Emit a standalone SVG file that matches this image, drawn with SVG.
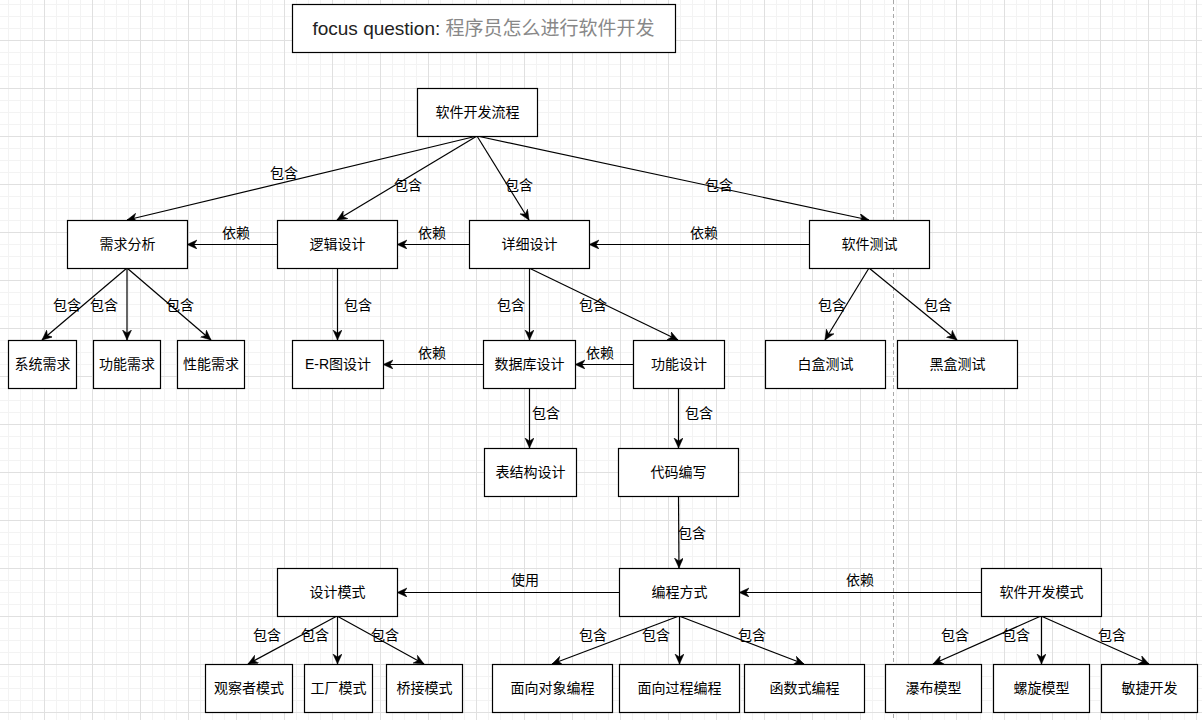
<svg xmlns="http://www.w3.org/2000/svg" width="1202" height="720" viewBox="0 0 1202 720">
<style>
.n rect{fill:#fff;stroke:#000;stroke-width:1.2}
.n text{font-family:"Liberation Sans","Noto Sans CJK SC",sans-serif;font-size:14px;fill:#000;text-anchor:middle}
.e path{fill:none;stroke:#000;stroke-width:1.2}
.e .a{marker-end:url(#arr)}
.l text{font-family:"Liberation Sans","Noto Sans CJK SC",sans-serif;font-size:14px;fill:#000;text-anchor:middle}
</style>
<defs>
<pattern id="grid" x="-4" y="-8" width="48" height="48" patternUnits="userSpaceOnUse">
<path d="M12.5 0V48M24.5 0V48M36.5 0V48M0 12.5H48M0 24.5H48M0 36.5H48" stroke="#f3f3f3" stroke-width="1" fill="none"/>
<path d="M0.5 0V48M0 0.5H48" stroke="#e0e0e0" stroke-width="1" fill="none"/>
</pattern>
<marker id="arr" markerUnits="userSpaceOnUse" markerWidth="12" markerHeight="10" refX="10" refY="4.5" orient="auto">
<path d="M0,0 L10,4.5 L0,9 L3,4.5 Z" fill="#000" stroke="#000" stroke-width="0.5"/>
</marker>
</defs>
<rect width="1202" height="720" fill="#fff"/>
<rect width="1202" height="720" fill="url(#grid)"/>
<path d="M893.5 0V720" stroke="#a8a8a8" stroke-width="1" stroke-dasharray="4 3"/>

<g id="title" class="n">
<rect x="292.5" y="4.5" width="383" height="48"/>
<text x="483.5" y="35" style="font-size:19px"><tspan fill="#222">focus question: </tspan><tspan fill="#888">程序员怎么进行软件开发</tspan></text>
</g>

<g id="edges" class="e">
<path class="a" d="M477 136L127 220"/>
<path class="a" d="M477 136L337 220"/>
<path class="a" d="M477 136L529 220"/>
<path class="a" d="M477 136L869 220"/>
<path class="a" d="M277 244.5H187"/>
<path class="a" d="M469 244.5H397"/>
<path class="a" d="M809 244.5H589"/>
<path class="a" d="M127 268L42 340"/>
<path class="a" d="M127 268V340"/>
<path class="a" d="M127 268L211 340"/>
<path class="a" d="M337.5 268V340"/>
<path class="a" d="M529.5 268V340"/>
<path class="a" d="M529 268L678 340"/>
<path class="a" d="M483 364.5H383"/>
<path class="a" d="M633 364.5H575"/>
<path class="a" d="M529.5 388V448"/>
<path class="a" d="M678.5 388V448"/>
<path class="a" d="M678.5 496L679 568"/>
<path class="a" d="M619 592.5H397"/>
<path class="a" d="M981 592.5H739"/>
<path class="a" d="M869 268L825 340"/>
<path class="a" d="M869 268L957 340"/>
<path class="a" d="M337 616L248 664"/>
<path class="a" d="M337.5 616V664"/>
<path class="a" d="M337 616L424 664"/>
<path class="a" d="M679 616L552 664"/>
<path class="a" d="M679.5 616V664"/>
<path class="a" d="M679 616L804 664"/>
<path class="a" d="M1041 616L933 664"/>
<path class="a" d="M1041.5 616V664"/>
<path class="a" d="M1041 616L1149 664"/>
</g>

<g id="labels" class="l">
<text x="284" y="178">包含</text>
<text x="408" y="190">包含</text>
<text x="519" y="190">包含</text>
<text x="719" y="190">包含</text>
<text x="236" y="238">依赖</text>
<text x="432" y="238">依赖</text>
<text x="704" y="238">依赖</text>
<text x="67" y="310">包含</text>
<text x="104" y="310">包含</text>
<text x="180" y="310">包含</text>
<text x="358" y="310">包含</text>
<text x="511" y="310">包含</text>
<text x="593" y="310">包含</text>
<text x="832" y="310">包含</text>
<text x="938" y="310">包含</text>
<text x="432" y="358">依赖</text>
<text x="600" y="358">依赖</text>
<text x="546" y="418">包含</text>
<text x="699" y="418">包含</text>
<text x="692" y="538">包含</text>
<text x="525" y="585">使用</text>
<text x="860" y="585">依赖</text>
<text x="267" y="640">包含</text>
<text x="315" y="640">包含</text>
<text x="385" y="640">包含</text>
<text x="593" y="640">包含</text>
<text x="656" y="640">包含</text>
<text x="752" y="640">包含</text>
<text x="955" y="640">包含</text>
<text x="1016" y="640">包含</text>
<text x="1112" y="640">包含</text>
</g>

<g id="n_root" class="n"><rect x="417.5" y="88.5" width="120" height="48"/><text x="477.5" y="117">软件开发流程</text></g>
<g id="n_xqfx" class="n"><rect x="67.5" y="220.5" width="120" height="48"/><text x="127.5" y="249">需求分析</text></g>
<g id="n_ljsj" class="n"><rect x="277.5" y="220.5" width="120" height="48"/><text x="337.5" y="249">逻辑设计</text></g>
<g id="n_xxsj" class="n"><rect x="469.5" y="220.5" width="120" height="48"/><text x="529.5" y="249">详细设计</text></g>
<g id="n_rjcs" class="n"><rect x="809.5" y="220.5" width="120" height="48"/><text x="869.5" y="249">软件测试</text></g>
<g id="n_xtxq" class="n"><rect x="8.5" y="340.5" width="68" height="48"/><text x="42.5" y="369">系统需求</text></g>
<g id="n_gnxq" class="n"><rect x="93.5" y="340.5" width="67" height="48"/><text x="127" y="369">功能需求</text></g>
<g id="n_xnxq" class="n"><rect x="177.5" y="340.5" width="67" height="48"/><text x="211" y="369">性能需求</text></g>
<g id="n_er" class="n"><rect x="292.5" y="340.5" width="91" height="48"/><text x="338" y="369">E-R图设计</text></g>
<g id="n_sjk" class="n"><rect x="483.5" y="340.5" width="92" height="48"/><text x="529.5" y="369">数据库设计</text></g>
<g id="n_gnsj" class="n"><rect x="633.5" y="340.5" width="91" height="48"/><text x="679" y="369">功能设计</text></g>
<g id="n_bhcs" class="n"><rect x="765.5" y="340.5" width="120" height="48"/><text x="825.5" y="369">白盒测试</text></g>
<g id="n_hhcs" class="n"><rect x="897.5" y="340.5" width="120" height="48"/><text x="957.5" y="369">黑盒测试</text></g>
<g id="n_bjg" class="n"><rect x="484.5" y="448.5" width="92" height="48"/><text x="530.5" y="477">表结构设计</text></g>
<g id="n_dmbx" class="n"><rect x="618.5" y="448.5" width="120" height="48"/><text x="678.5" y="477">代码编写</text></g>
<g id="n_sjms" class="n"><rect x="277.5" y="568.5" width="120" height="48"/><text x="337.5" y="597">设计模式</text></g>
<g id="n_bcfs" class="n"><rect x="619.5" y="568.5" width="120" height="48"/><text x="679.5" y="597">编程方式</text></g>
<g id="n_kfms" class="n"><rect x="981.5" y="568.5" width="120" height="48"/><text x="1041.5" y="597">软件开发模式</text></g>
<g id="n_gcz" class="n"><rect x="205.5" y="664.5" width="87" height="48"/><text x="249" y="693">观察者模式</text></g>
<g id="n_gc" class="n"><rect x="304.5" y="664.5" width="68" height="48"/><text x="338.5" y="693">工厂模式</text></g>
<g id="n_qj" class="n"><rect x="386.5" y="664.5" width="76" height="48"/><text x="424.5" y="693">桥接模式</text></g>
<g id="n_mxdx" class="n"><rect x="492.5" y="664.5" width="120" height="48"/><text x="552.5" y="693">面向对象编程</text></g>
<g id="n_mxgc" class="n"><rect x="619.5" y="664.5" width="120" height="48"/><text x="679.5" y="693">面向过程编程</text></g>
<g id="n_hss" class="n"><rect x="744.5" y="664.5" width="120" height="48"/><text x="804.5" y="693">函数式编程</text></g>
<g id="n_pb" class="n"><rect x="885.5" y="664.5" width="96" height="48"/><text x="933.5" y="693">瀑布模型</text></g>
<g id="n_lx" class="n"><rect x="993.5" y="664.5" width="96" height="48"/><text x="1041.5" y="693">螺旋模型</text></g>
<g id="n_mj" class="n"><rect x="1101.5" y="664.5" width="96" height="48"/><text x="1149.5" y="693">敏捷开发</text></g>
</svg>
